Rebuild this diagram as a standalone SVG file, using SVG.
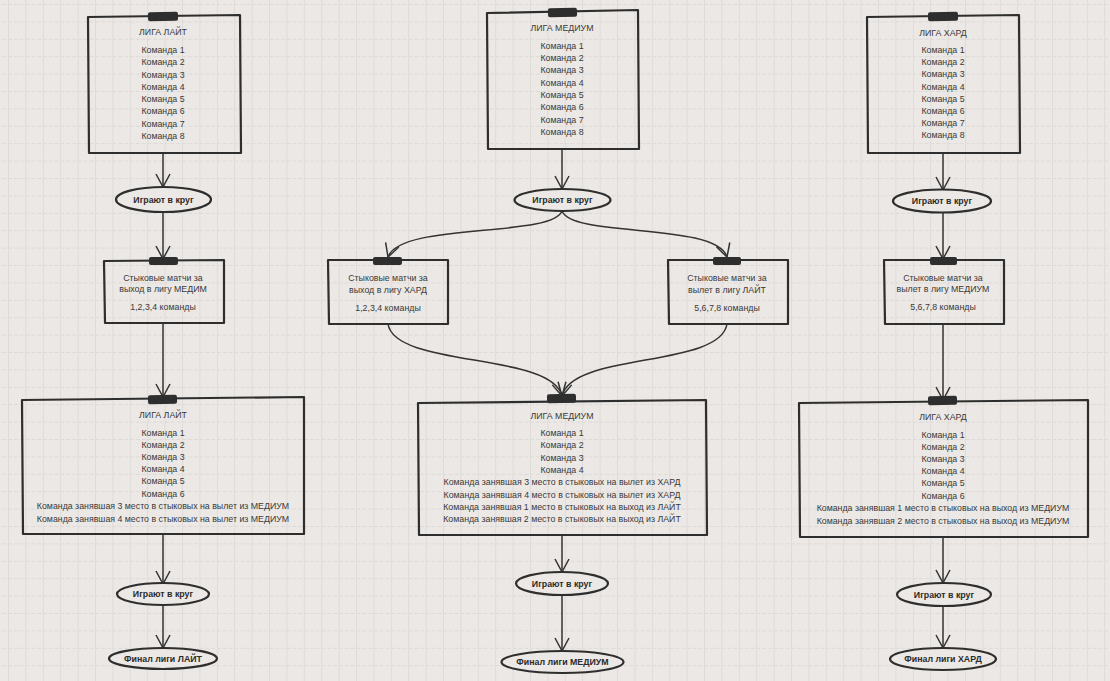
<svg xmlns="http://www.w3.org/2000/svg" width="1110" height="681" viewBox="0 0 1110 681">
<style>
text{font-family:"Liberation Sans",Arial,sans-serif;font-size:8.8px;fill:#3a3a3a;text-anchor:middle}
.b{font-weight:bold;fill:#2b2b2b}
.box{fill:none;stroke:#2e2e2e;stroke-width:2.2;stroke-linejoin:round}
.ell{fill:#ebe8e5;stroke:#2e2e2e;stroke-width:2.2}
.tab{fill:#2e2e2e}
.con path{fill:none;stroke:#333;stroke-width:1.5;marker-end:url(#ah)}
</style>
<defs>
<pattern id="grid" width="17.4" height="17.4" patternUnits="userSpaceOnUse" x="8" y="4">
<path d="M0,0.5 H17.4" stroke="#dcd9d6" stroke-width="1" stroke-dasharray="4 2"/>
<path d="M0.5,0 V17.4" stroke="#dedbd8" stroke-width="1"/>
</pattern>
<marker id="ah" markerWidth="16" markerHeight="16" refX="14" refY="8" orient="auto" markerUnits="userSpaceOnUse">
<path d="M1,1 L14,8 L1,15" fill="none" stroke="#333" stroke-width="1.5"/>
</marker>
</defs>
<rect width="1110" height="681" fill="#ebe8e5"/>
<rect width="1110" height="681" fill="url(#grid)"/>

<g class="con" id="connectors">
<path d="M163,153 L163,187"/>
<path d="M163,212 L163,259"/>
<path d="M163,323 L163,397"/>
<path d="M163,534 L163,584"/>
<path d="M163,604 L163,648"/>
<path d="M562,149 L562,189"/>
<path d="M562,211 C552,238 400,222 388,257"/>
<path d="M562,211 C572,238 716,222 727,257"/>
<path d="M388,324 C395,368 552,352 562,396"/>
<path d="M727,324 C720,368 572,352 562,396"/>
<path d="M562,535 L562,572"/>
<path d="M562,595 L562,651"/>
<path d="M943,153 L943,190"/>
<path d="M943,213 L943,259"/>
<path d="M943,324 L943,400"/>
<path d="M943,537 L943,583"/>
<path d="M943,606 L943,648"/>
</g>

<g id="liga-light-top">
<path class="box" d="M88,17 L240,15 L241,153 L89,153 Z"/>
<rect class="tab" x="148" y="12" width="30" height="9" rx="2" transform="rotate(-1 163 16)"/>
<text x="163" y="35">ЛИГА ЛАЙТ</text>
<text x="163" y="53">Команда 1</text>
<text x="163" y="65">Команда 2</text>
<text x="163" y="78">Команда 3</text>
<text x="163" y="90">Команда 4</text>
<text x="163" y="102">Команда 5</text>
<text x="163" y="114">Команда 6</text>
<text x="163" y="127">Команда 7</text>
<text x="163" y="139">Команда 8</text>
</g>
<g id="light-round">
<ellipse class="ell" cx="163.5" cy="199.5" rx="47.5" ry="12.5"/>
<text class="b" x="163.5" y="202.5">Играют в круг</text>
</g>
<g id="light-playoff">
<path class="box" d="M104,261 L224,260 L224,323 L105,323 Z"/>
<rect class="tab" x="149" y="257" width="29" height="8" rx="2"/>
<text x="163" y="281">Стыковые матчи за</text>
<text x="163" y="292">выход в лигу МЕДИМ</text>
<text x="163" y="310">1,2,3,4 команды</text>
</g>
<g id="liga-light-bottom">
<path class="box" d="M22,400 L304,397 L304,534 L23,534 Z"/>
<rect class="tab" x="148" y="395" width="29" height="9" rx="2" transform="rotate(-1 163 399)"/>
<text x="163" y="418">ЛИГА ЛАЙТ</text>
<text x="163" y="436">Команда 1</text>
<text x="163" y="448">Команда 2</text>
<text x="163" y="460">Команда 3</text>
<text x="163" y="472">Команда 4</text>
<text x="163" y="484">Команда 5</text>
<text x="163" y="497">Команда 6</text>
<text x="163" y="509">Команда занявшая 3 место в стыковых на вылет из МЕДИУМ</text>
<text x="163" y="522">Команда занявшая 4 место в стыковых на вылет из МЕДИУМ</text>
</g>
<g id="light-round-2">
<ellipse class="ell" cx="163" cy="594" rx="46" ry="11"/>
<text class="b" x="163" y="597">Играют в круг</text>
</g>
<g id="light-final">
<ellipse class="ell" cx="163" cy="658.5" rx="54" ry="10.5"/>
<text class="b" x="163" y="661.5">Финал лиги ЛАЙТ</text>
</g>

<g id="liga-medium-top">
<path class="box" d="M487,13 L638,10 L639,149 L488,149 Z"/>
<rect class="tab" x="548" y="8" width="29" height="9" rx="2" transform="rotate(-1 562 12)"/>
<text x="562" y="31">ЛИГА МЕДИУМ</text>
<text x="562" y="49">Команда 1</text>
<text x="562" y="61">Команда 2</text>
<text x="562" y="73">Команда 3</text>
<text x="562" y="86">Команда 4</text>
<text x="562" y="98">Команда 5</text>
<text x="562" y="110">Команда 6</text>
<text x="562" y="123">Команда 7</text>
<text x="562" y="135">Команда 8</text>
</g>
<g id="medium-round">
<ellipse class="ell" cx="562.5" cy="200" rx="48" ry="11"/>
<text class="b" x="562.5" y="203">Играют в круг</text>
</g>
<g id="medium-playoff-up">
<path class="box" d="M328,260 L448,260 L448,324 L329,324 Z"/>
<rect class="tab" x="373" y="257" width="29" height="8" rx="2"/>
<text x="388" y="281">Стыковые матчи за</text>
<text x="388" y="293">выход в лигу ХАРД</text>
<text x="388" y="311">1,2,3,4 команды</text>
</g>
<g id="medium-playoff-down">
<path class="box" d="M668,260 L788,260 L788,324 L669,324 Z"/>
<rect class="tab" x="713" y="257" width="28" height="8" rx="2"/>
<text x="727" y="281">Стыковые матчи за</text>
<text x="727" y="293">вылет в лигу ЛАЙТ</text>
<text x="727" y="311">5,6,7,8 команды</text>
</g>
<g id="liga-medium-bottom">
<path class="box" d="M418,403 L706,400 L707,535 L419,535 Z"/>
<rect class="tab" x="547" y="394" width="29" height="9" rx="2" transform="rotate(-1 562 398)"/>
<text x="562" y="419">ЛИГА МЕДИУМ</text>
<text x="562" y="436">Команда 1</text>
<text x="562" y="448">Команда 2</text>
<text x="562" y="461">Команда 3</text>
<text x="562" y="473">Команда 4</text>
<text x="562" y="485">Команда занявшая 3 место в стыковых на вылет из ХАРД</text>
<text x="562" y="498">Команда занявшая 4 место в стыковых на вылет из ХАРД</text>
<text x="562" y="510">Команда занявшая 1 место в стыковых на выход из ЛАЙТ</text>
<text x="562" y="522">Команда занявшая 2 место в стыковых на выход из ЛАЙТ</text>
</g>
<g id="medium-round-2">
<ellipse class="ell" cx="562" cy="583.5" rx="46" ry="11.5"/>
<text class="b" x="562" y="586.5">Играют в круг</text>
</g>
<g id="medium-final">
<ellipse class="ell" cx="562.5" cy="662" rx="61" ry="11"/>
<text class="b" x="562.5" y="665">Финал лиги МЕДИУМ</text>
</g>

<g id="liga-hard-top">
<path class="box" d="M867,17 L1019,15 L1020,153 L868,153 Z"/>
<rect class="tab" x="928" y="12" width="30" height="9" rx="2" transform="rotate(-1 943 16)"/>
<text x="943" y="36">ЛИГА ХАРД</text>
<text x="943" y="53">Команда 1</text>
<text x="943" y="65">Команда 2</text>
<text x="943" y="77">Команда 3</text>
<text x="943" y="90">Команда 4</text>
<text x="943" y="102">Команда 5</text>
<text x="943" y="114">Команда 6</text>
<text x="943" y="126">Команда 7</text>
<text x="943" y="138">Команда 8</text>
</g>
<g id="hard-round">
<ellipse class="ell" cx="942" cy="201" rx="49" ry="11.5"/>
<text class="b" x="942" y="204">Играют в круг</text>
</g>
<g id="hard-playoff">
<path class="box" d="M884,260 L1004,260 L1004,324 L885,324 Z"/>
<rect class="tab" x="930" y="257" width="27" height="8" rx="2"/>
<text x="943" y="281">Стыковые матчи за</text>
<text x="943" y="292">вылет в лигу МЕДИУМ</text>
<text x="943" y="310">5,6,7,8 команды</text>
</g>
<g id="liga-hard-bottom">
<path class="box" d="M799,403 L1088,400 L1088,537 L800,537 Z"/>
<rect class="tab" x="928" y="396" width="29" height="9" rx="2" transform="rotate(-1 943 400)"/>
<text x="943" y="420">ЛИГА ХАРД</text>
<text x="943" y="438">Команда 1</text>
<text x="943" y="450">Команда 2</text>
<text x="943" y="462">Команда 3</text>
<text x="943" y="474">Команда 4</text>
<text x="943" y="486">Команда 5</text>
<text x="943" y="499">Команда 6</text>
<text x="943" y="511">Команда занявшая 1 место в стыковых на выход из МЕДИУМ</text>
<text x="943" y="524">Команда занявшая 2 место в стыковых на выход из МЕДИУМ</text>
</g>
<g id="hard-round-2">
<ellipse class="ell" cx="944" cy="594.5" rx="47" ry="11.5"/>
<text class="b" x="944" y="597.5">Играют в круг</text>
</g>
<g id="hard-final">
<ellipse class="ell" cx="943" cy="659" rx="53" ry="11"/>
<text class="b" x="943" y="662">Финал лиги ХАРД</text>
</g>
</svg>
